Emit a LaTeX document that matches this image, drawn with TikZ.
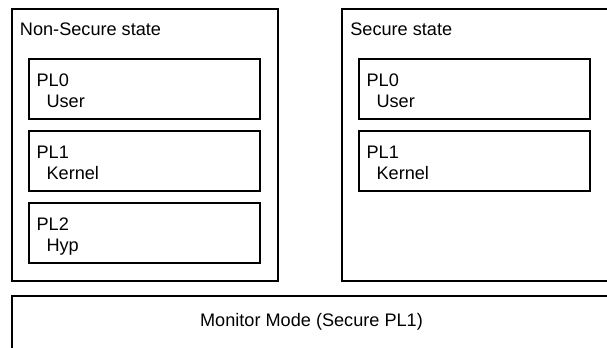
\documentclass[tikz,border=0pt]{standalone}
\usepackage{fontspec}
\setmainfont{Liberation Sans}
\usepackage{tikz}
\usetikzlibrary{positioning}

\begin{document}
\begin{tikzpicture}[font=\fontsize{12.9}{15.2}\selectfont, line width=1.1pt, node distance=0.3cm,
  world/.style={draw, outer sep=0pt, inner sep=0pt, anchor=north west, minimum height=6.8cm},
  worldname/.style={anchor=base west, inner sep=0pt},
  plbox/.style={draw, outer sep=0pt, anchor=north west, inner xsep=0.19cm, inner ysep=0pt,
    text width=5.395cm, align=left, text height=0.69cm, text depth=0.81cm}]
  \useasboundingbox (0,0) rectangle (15.175,8.7);
  \clip (0,0) rectangle (15.175,8.7);

  % normal world
  \node[world, minimum width=6.65cm] (ns) at (0.3,8.475) {};
  \node[worldname] (nsname) at ([shift={(0.18,-0.675)}]ns.north west) {Non-Secure state};
  \node[plbox] (nsuser) at (0.725,7.225) {PL0\\\hspace*{0.55em}User};
  \node[plbox, below=of nsuser.south west, anchor=north west] (nskernel) {PL1\\\hspace*{0.55em}Kernel};
  \node[plbox, below=of nskernel.south west, anchor=north west] (nshyp) {PL2\\\hspace*{0.55em}Hyp};

  % secure world
  \node[world, minimum width=6.7cm] (sw) at (8.55,8.475) {};
  \node[worldname] (swname) at ([shift={(0.19,-0.675)}]sw.north west) {Secure state};
  \node[plbox] (swuser) at (8.975,7.225) {PL0\\\hspace*{0.55em}User};
  \node[plbox, below=of swuser.south west, anchor=north west] (swkernel) {PL1\\\hspace*{0.55em}Kernel};

  % monitor below both
  \node[draw, outer sep=0pt, inner sep=0pt, anchor=north, minimum width=14.975cm,
    text height=0.7675cm, text depth=1.3cm] (mon) at (7.7875,1.3) {Monitor Mode (Secure PL1)};
\end{tikzpicture}
\end{document}
